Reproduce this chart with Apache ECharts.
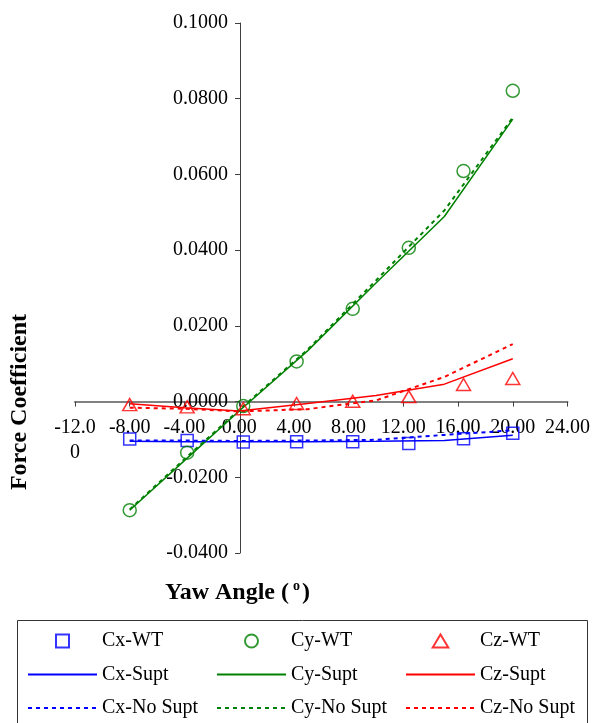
<!DOCTYPE html>
<html>
<head>
<meta charset="utf-8">
<script src="https://cdn.jsdelivr.net/npm/echarts@6/dist/echarts.min.js"></script>
<style>
html,body{margin:0;padding:0;background:#fff;}
#chart{width:593px;height:723px;}
</style>
</head>
<body>
<div id="chart"></div>
<script>
// Wind-tunnel (WT) measurements
const wtAngles = [-8, -3.8, 0.3, 4.2, 8.3, 12.4, 16.4, 20];
const cxWT = [-0.0099, -0.0103, -0.0107, -0.0106, -0.0106, -0.0111, -0.0098, -0.0084];
const cyWT = [-0.0287, -0.0135, -0.0012, 0.0106, 0.0245, 0.0406, 0.0609, 0.0821];
const czWT = [-0.0008, -0.0014, -0.0019, -0.0005, 0.0001, 0.0013, 0.0045, 0.0061];
// Computed (with / without support)
const cfdAngles = [-8, -4, 0, 5, 10, 15, 20];
const cxSupt = [-0.0105, -0.0106, -0.0106, -0.0106, -0.0105, -0.0103, -0.0089];
const cySupt = [-0.0287, -0.0156, -0.0025, 0.0134, 0.0313, 0.0489, 0.0746];
const czSupt = [-0.0006, -0.0016, -0.0025, -0.0005, 0.0016, 0.0046, 0.0113];
const cxNoSupt = [-0.0103, -0.0103, -0.0104, -0.0103, -0.0101, -0.0088, -0.0076];
const cyNoSupt = [-0.0285, -0.0152, -0.0022, 0.0137, 0.0320, 0.0505, 0.0750];
const czNoSupt = [-0.0016, -0.0019, -0.0026, -0.0020, 0.0003, 0.0065, 0.0152];
// Axis settings
const xMin = -12, xMax = 24, xStep = 4;
const yMin = -0.04, yMax = 0.1, yStep = 0.02;

const BLUE = '#0000FF', GREEN = '#008000', RED = '#FF0000';
const FONT = '"Liberation Serif", "Times New Roman", serif';

const GRID = { left: 75, right: 23, top: 23, bottom: 170 };
const W = 593, H = 723;
const plotW = W - GRID.left - GRID.right, plotH = H - GRID.top - GRID.bottom;
// offsets so that the axes cross at zero
const xAxisOffset = -plotH * (0 - yMin) / (yMax - yMin);
const yAxisOffset = -plotW * (0 - xMin) / (xMax - xMin);

function pairs(xs, ys) { return xs.map((x, i) => [x, ys[i]]); }

function scatter(name, ys, symbol, size, color) {
  return {
    name: name, type: 'scatter', data: pairs(wtAngles, ys),
    symbol: symbol, symbolSize: size, z: 5,
    itemStyle: { color: 'rgba(0,0,0,0)', borderColor: color, borderWidth: 1.5 }
  };
}
function line(name, ys, color, dashed) {
  return {
    name: name, type: 'line', data: pairs(cfdAngles, ys),
    symbol: 'none', showSymbol: false, smooth: false, z: 3,
    itemStyle: { color: color },
    lineStyle: { color: color, width: dashed ? 2 : 1.5, type: dashed ? [4, 4] : 'solid' }
  };
}

const ICON_SQ = 'path://M0,0L10,0L10,10L0,10Z';
const ICON_CI = 'path://M10,5A5,5,0,1,1,0,5A5,5,0,1,1,10,5Z';
const ICON_TR = 'path://M6,0L12,10L0,10Z';
const noSym = { opacity: 0 };

const chart = echarts.init(document.getElementById('chart'));
const legendCommon = {
  orient: 'vertical', top: 631, padding: 0, itemGap: 13.5,
  itemWidth: 69, itemHeight: 13,
  textStyle: { fontFamily: FONT, fontSize: 20, color: '#000', lineHeight: 20 },
  selectedMode: false
};
chart.setOption({
  backgroundColor: '#fff',
  animation: false,
  grid: GRID,
  xAxis: {
    type: 'value', min: xMin, max: xMax, interval: xStep,
    position: 'bottom', offset: xAxisOffset,
    axisLine: { onZero: false, lineStyle: { color: '#808080', width: 2 } },
    axisTick: { length: 5, lineStyle: { color: '#404040' } },
    splitLine: { show: false },
    axisLabel: {
      margin: 14, fontFamily: FONT, fontSize: 20, color: '#000', lineHeight: 25,
      formatter: v => (v === -12 ? '-12.0\n0' : v.toFixed(2))
    }
  },
  yAxis: {
    type: 'value', min: yMin, max: yMax, interval: yStep,
    position: 'left', offset: yAxisOffset,
    axisLine: { show: true, onZero: false, lineStyle: { color: '#404040', width: 1 } },
    axisTick: { show: true, length: 5, lineStyle: { color: '#404040' } },
    splitLine: { show: false },
    axisLabel: {
      margin: 12, fontFamily: FONT, fontSize: 20, color: '#000',
      formatter: v => v.toFixed(4)
    }
  },
  legend: [
    Object.assign({ left: 27, data: [
      { name: 'Cx-WT', icon: ICON_SQ }, { name: 'Cx-Supt', itemStyle: noSym }, { name: 'Cx-No Supt', itemStyle: noSym }] }, legendCommon),
    Object.assign({ left: 216, data: [
      { name: 'Cy-WT', icon: ICON_CI }, { name: 'Cy-Supt', itemStyle: noSym }, { name: 'Cy-No Supt', itemStyle: noSym }] }, legendCommon),
    Object.assign({ left: 405, data: [
      { name: 'Cz-WT', icon: ICON_TR }, { name: 'Cz-Supt', itemStyle: noSym }, { name: 'Cz-No Supt', itemStyle: noSym }] }, legendCommon)
  ],
  graphic: [
    { type: 'rect', shape: { x: 17.5, y: 620.5, width: 570, height: 120 },
      style: { fill: 'none', stroke: '#333', lineWidth: 1 }, silent: true },
    { type: 'text', x: 20, y: 402, rotation: Math.PI / 2,
      style: { text: 'Force Coefficient', font: 'bold 24px ' + FONT, fill: '#000', align: 'center', verticalAlign: 'middle' } },
    { type: 'text', x: 165, y: 593,
      style: { text: 'Yaw Angle (', font: 'bold 24px ' + FONT, fill: '#000', align: 'left', verticalAlign: 'middle' } },
    { type: 'text', x: 293, y: 586,
      style: { text: 'o', font: 'bold 14px ' + FONT, fill: '#000', align: 'left', verticalAlign: 'middle' } },
    { type: 'text', x: 302, y: 593,
      style: { text: ')', font: 'bold 24px ' + FONT, fill: '#000', align: 'left', verticalAlign: 'middle' } }
  ],
  series: [
    scatter('Cx-WT', cxWT, 'rect', 12, BLUE),
    scatter('Cy-WT', cyWT, 'circle', 13, GREEN),
    scatter('Cz-WT', czWT, 'triangle', [14, 12], RED),
    line('Cx-Supt', cxSupt, BLUE, false),
    line('Cy-Supt', cySupt, GREEN, false),
    line('Cz-Supt', czSupt, RED, false),
    line('Cx-No Supt', cxNoSupt, BLUE, true),
    line('Cy-No Supt', cyNoSupt, GREEN, true),
    line('Cz-No Supt', czNoSupt, RED, true)
  ]
});
</script>
</body>
</html>
